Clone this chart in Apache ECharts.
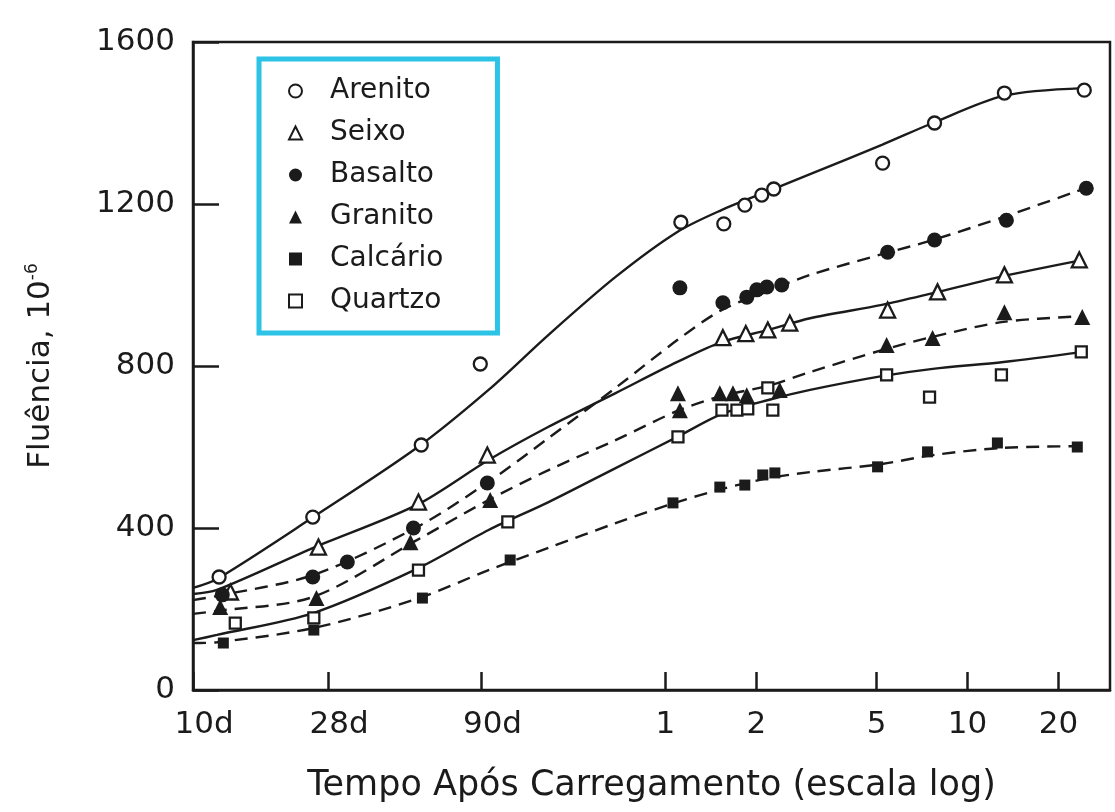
<!DOCTYPE html>
<html><head><meta charset="utf-8">
<script src="https://cdn.jsdelivr.net/npm/echarts@6/dist/echarts.min.js"></script>
<style>html,body{margin:0;padding:0;background:#fff}#c{width:1115px;height:812px}</style>
</head><body><div id="c"></div>
<script>
// X axis: time after loading, in days (log scale)
const xTickDays = [10, 28, 90, 365, 730, 1825, 3650, 7300];
const xTickLabels = ['10d', '28d', '90d', '1', '2', '5', '10', '20'];
const yTicks = [0, 400, 800, 1200, 1600];

// Measured points [days, creep 10^-6]
const arenitoPts = [[12.2,279],[24.9,427],[56.9,605],[89.2,805],[411,1155],[570,1151],[669,1197],[761,1222],[834,1237],[1911,1301],[2838,1400],[4832,1474],[8878,1481]];
const seixoPts = [[13.3,242],[26.0,353],[55.7,464],[94.1,580],[566,870],[674,880],[797,889],[942,906],[1985,938],[2903,983],[4832,1025],[8547,1062]];
const basaltoPts = [[12.5,235],[24.9,279],[32.4,316],[53.6,400],[94.1,511],[408,993],[566,956],[679,970],[733,988],[791,995],[886,1000],[1985,1081],[2838,1111],[4906,1160],[9015,1239]];
const granitoPts = [[12.3,205],[25.6,227],[52.4,365],[96.2,469],[402,733],[408,691],[553,733],[611,733],[679,728],[873,741],[1970,852],[2795,869],[4832,933],[8744,921]];
const calcarioPts = [[12.6,116],[25.1,148],[57.4,227],[112,321],[387,462],[553,501],[669,506],[767,531],[841,536],[1839,551],[2691,588],[4581,610],[8419,600]];
const quartzoPts = [[13.8,165],[25.1,178],[55.7,296],[110,415],[402,625],[562,691],[630,691],[684,694],[797,746],[828,691],[1970,778],[2732,723],[4723,778],[8678,835]];

// Fitted curves at these days
const curveDays = [10, 12, 25, 55, 95, 150, 250, 400, 560, 800, 1100, 1900, 2800, 4800, 8800];
const arenitoCurve  = [252, 274, 427, 598, 741, 877, 1020, 1131, 1185, 1232, 1274, 1346, 1400, 1467, 1486];
const seixoCurve    = [237, 247, 351, 457, 568, 650, 733, 810, 859, 889, 918, 951, 980, 1022, 1062];
const basaltoCurve  = [222, 232, 284, 402, 514, 622, 746, 864, 938, 985, 1025, 1076, 1111, 1168, 1237];
const granitoCurve  = [188, 195, 230, 370, 469, 543, 617, 689, 726, 751, 785, 839, 872, 909, 923];
const quartzoCurve  = [123, 136, 190, 299, 395, 464, 548, 625, 681, 716, 741, 775, 793, 810, 835];
const calcarioCurve = [116, 118, 153, 225, 296, 351, 412, 464, 496, 523, 538, 558, 580, 598, 602];

const INK = '#1b1b1b';
const FONT = 'DejaVu Sans';

function zipCurve(vals) { return curveDays.map((d, i) => [d, vals[i]]); }
function tickLabel(v) {
  let best = 0, bd = Infinity;
  xTickDays.forEach((d, i) => { const e = Math.abs(Math.log(d) - Math.log(v)); if (e < bd) { bd = e; best = i; } });
  const t = xTickLabels[best];
  return t.endsWith('d') ? '{d|' + t + '}' : '{n|' + t + '}';
}

const openStyle = { color: '#ffffff', borderColor: INK, borderWidth: 2.3, opacity: 1 };
const fillStyle = { color: INK, borderColor: INK, borderWidth: 0, opacity: 1 };

function scatter(name, data, symbol, size, style) {
  return { name, type: 'scatter', data, symbol, symbolSize: size, itemStyle: style, z: 5 };
}
function curve(name, vals, dashed) {
  return {
    name, type: 'line', data: zipCurve(vals), smooth: 0.3, symbol: 'none', z: 3,
    lineStyle: { color: INK, width: 2.4, type: dashed ? [13, 8] : 'solid' },
    silent: true
  };
}

const chart = echarts.init(document.getElementById('c'));
chart.setOption({
  backgroundColor: '#ffffff',
  animation: false,
  grid: { left: 193, right: 5, top: 42, bottom: 122, show: true, borderColor: INK, borderWidth: 2.5, backgroundColor: 'transparent' },
  legend: {
    data: ['Arenito', 'Seixo', 'Basalto', 'Granito', 'Calcário', 'Quartzo'],
    orient: 'vertical', left: 259, top: 59,
    padding: [17, 54, 17, 29],
    itemWidth: 13, itemHeight: 13, itemGap: 12,
    backgroundColor: '#ffffff', borderColor: '#2cc3e6', borderWidth: 5,
    textStyle: { fontFamily: FONT, fontSize: 28, lineHeight: 30, color: INK, padding: [0, 0, 0, 23] },
    selectedMode: false
  },
  xAxis: {
    type: 'log', logBase: 10, min: 10, max: 10800,
    name: 'Tempo Após Carregamento (escala log)', nameLocation: 'middle', nameGap: 78,
    nameTextStyle: { fontFamily: FONT, fontSize: 35, color: INK },
    axisLine: { show: true, lineStyle: { color: INK, width: 2.5 } },
    axisTick: { show: true, inside: true, length: 18, lineStyle: { color: INK, width: 2.5 }, customValues: xTickDays },
    axisLabel: {
      customValues: xTickDays, formatter: tickLabel, margin: 19, color: INK,
      fontFamily: FONT, fontSize: 31,
      rich: {
        d: { fontFamily: FONT, fontSize: 31, color: INK, padding: [0, 0, 0, 22] },
        n: { fontFamily: FONT, fontSize: 31, color: INK }
      }
    },
    splitLine: { show: false }, minorTick: { show: false }
  },
  yAxis: {
    type: 'value', min: 0, max: 1600, interval: 400,
    name: 'Fluência, 10{sup|-6}', nameLocation: 'middle', nameGap: 135, nameRotate: 90,
    nameTextStyle: {
      fontFamily: FONT, fontSize: 31, color: INK,
      rich: { sup: { fontFamily: FONT, fontSize: 17, color: INK, verticalAlign: 'top', lineHeight: 34 } }
    },
    axisLine: { show: true, lineStyle: { color: INK, width: 2.5 } },
    axisTick: { show: true, inside: true, length: 26, lineStyle: { color: INK, width: 2.5 } },
    axisLabel: { fontFamily: FONT, fontSize: 31, color: INK, margin: 18, formatter: v => String(v) },
    splitLine: { show: false }
  },
  series: [
    curve('c-arenito', arenitoCurve, false),
    curve('c-seixo', seixoCurve, false),
    curve('c-basalto', basaltoCurve, true),
    curve('c-granito', granitoCurve, true),
    curve('c-quartzo', quartzoCurve, false),
    curve('c-calcario', calcarioCurve, true),
    scatter('Arenito', arenitoPts, 'circle', 13, openStyle),
    scatter('Seixo', seixoPts, 'triangle', 15, openStyle),
    scatter('Basalto', basaltoPts, 'circle', 15, fillStyle),
    scatter('Granito', granitoPts, 'triangle', 16, fillStyle),
    scatter('Calcário', calcarioPts, 'rect', 11, fillStyle),
    scatter('Quartzo', quartzoPts, 'rect', 11, openStyle)
  ]
});
</script>
</body></html>
